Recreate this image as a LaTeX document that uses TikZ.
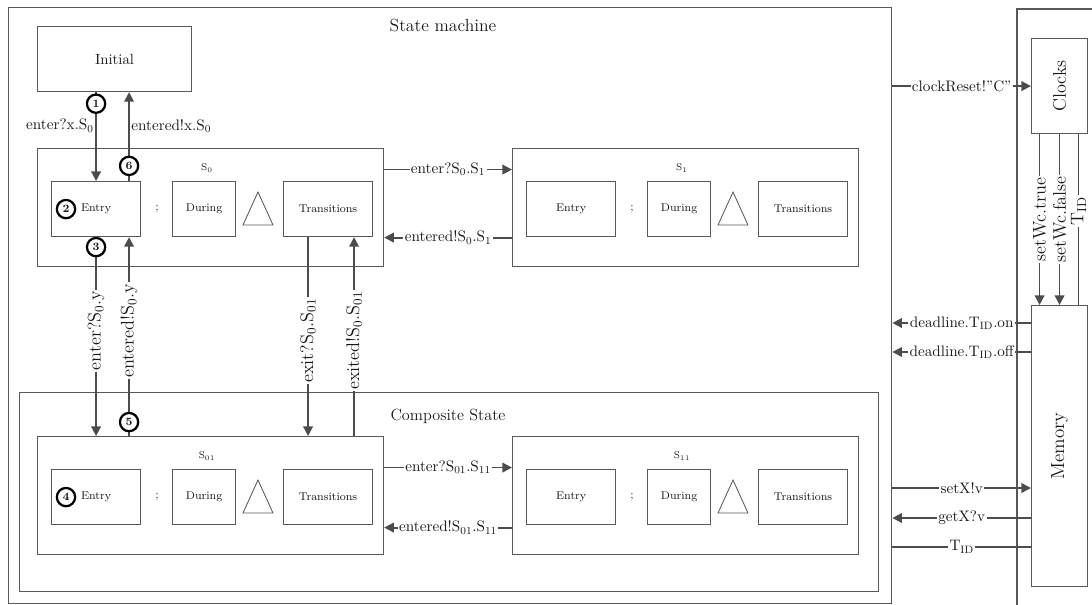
\documentclass[tikz,border=0pt]{standalone}
\usepackage{xcolor}
\usepackage{tikz}
\usetikzlibrary{arrows.meta, positioning, calc}

\definecolor{linegray}{gray}{0.35}
\definecolor{arrgray}{gray}{0.30}
\newcommand{\Ssub}[1]{S\textsubscript{#1}}
\newcommand{\Tid}{T\textsubscript{ID}}

\begin{document}
\begin{tikzpicture}[
    x=0.025cm, y=-0.025cm,
    every node/.style={text=black!90},
    frame/.style={draw=linegray, line width=0.8pt, inner sep=0pt, anchor=north west},
    box/.style={frame, font=\footnotesize},
    arr/.style={-{Triangle[length=2.4mm, width=2.4mm]}, line width=1.3pt, draw=arrgray},
    lnk/.style={line width=1.3pt, draw=arrgray},
    lbl/.style={fill=white, inner sep=1pt, font=\fontsize{10.8}{12}\selectfont},
    vlbl/.style={lbl, rotate=90, font=\fontsize{13}{15}\selectfont},
    num/.style={circle, draw=black, line width=1.6pt, fill=white, inner sep=0pt, minimum size=13pt, font=\bfseries\footnotesize}]
  \useasboundingbox (0,0) rectangle (1092,605);

  \node[frame, minimum width=22.075cm, minimum height=14.9cm] (sm) at (8,7) {};
  \node[font=\fontsize{12.5}{14}\selectfont] (smtitle) at (443,25) {State machine};
  \node[frame, minimum width=21.475cm, minimum height=4.975cm] (comp) at (19,392) {};
  \node[font=\fontsize{11.5}{13}\selectfont] (comptitle) at (448,416) {Composite State};
  \node[frame, minimum width=3.85cm, minimum height=1.625cm, font=\fontsize{10.5}{12}\selectfont] (init) at (37,26) {Initial};

  \foreach \st/\dx/\dy/\nm in {s0/0/0/0, s1/475/0/1, s01/0/288/01, s11/475/288/11}{
    \node[frame, minimum width=8.65cm, minimum height=2.95cm] (\st) at (\dx+37,\dy+148) {};
    \node[box, minimum width=2.225cm, minimum height=1.375cm] (\st-entry) at (\dx+51,\dy+181) {Entry};
    \node[box, minimum width=1.575cm, minimum height=1.375cm] (\st-during) at (\dx+172,\dy+181) {During};
    \node[box, minimum width=2.225cm, minimum height=1.375cm] (\st-trans) at (\dx+283,\dy+181) {Transitions};
    \node[font=\scriptsize] (\st-name) at (\dx+207,\dy+168) {\Ssub{\nm}};
    \node[font=\footnotesize] (\st-semi) at (\dx+157,\dy+209) {;};
    \draw[linegray, line width=0.6pt] (\dx+243,\dy+225) -- (\dx+258,\dy+192) -- (\dx+273,\dy+225) -- cycle;
  }

  \node[frame, minimum width=1.4cm, minimum height=2.375cm, font=\fontsize{13}{15}\selectfont] (clocks) at (1031,38) {\rotatebox{90}{Clocks}};
  \node[frame, minimum width=1.4cm, minimum height=7.025cm, font=\fontsize{13.5}{15}\selectfont] (memory) at (1031,305) {\rotatebox{90}{Memory}};
  \draw[linegray, line width=0.8pt] (1092,9) -- (1017,9) -- (1017,605);

  \node[num] (n2) at ($(s0-entry.west)+(15,0)$) {2};
  \node[num] (n4) at ($(s01-entry.west)+(15,0)$) {4};

  \coordinate (x6) at ($(s0-entry.north)+(33,0)$);
  \coordinate (x5) at ($(s0-entry.south)+(33,0)$);
  \coordinate (xex) at ($(s0-trans.south)+(-20,0)$);
  \coordinate (xed) at ($(s0-trans.south)+(26,0)$);
  \coordinate (c1) at ($(clocks.south)+(-20,0)$);
  \coordinate (c3) at ($(clocks.south)+(19,0)$);
  \coordinate (m1) at ($(memory.north west)+(0,18)$);
  \coordinate (m2) at ($(memory.north west)+(0,47)$);
  \coordinate (m3) at ($(memory.north west)+(0,183)$);
  \coordinate (m4) at ($(memory.north west)+(0,213)$);
  \coordinate (m5) at ($(memory.north west)+(0,242)$);

  \draw[arr] (s0-entry.north |- init.south) -- node[lbl, fill=none, left, pos=0.38] {enter?x.\Ssub{0}} node[num, pos=0.13] {1} (s0-entry.north);
  \draw[arr] (x6) -- node[num, pos=0.17] {6} node[lbl, fill=none, right, pos=0.62] {entered!x.\Ssub{0}} (x6 |- init.south);

  \draw[arr] (s0-entry.south) -- node[vlbl, pos=0.47] {enter?\Ssub{0}.y} node[num, pos=0.05] {3} (s0-entry.south |- s01.north);
  \draw[arr] (x5 |- s01.north) -- node[vlbl, pos=0.53] {entered!\Ssub{0}.y} node[num, pos=0.07] {5} (x5);
  \draw[arr] (xex) -- node[vlbl, pos=0.52] {exit?\Ssub{0}.\Ssub{01}} (xex |- s01.north);
  \draw[arr] (xed |- s01.north) -- node[vlbl, pos=0.48] {exited!\Ssub{0}.\Ssub{01}} (xed);

  \draw[arr] ([yshift=0.95cm]s0.east) -- node[lbl] {enter?\Ssub{0}.\Ssub{1}} ([yshift=0.95cm]s1.west);
  \draw[arr] ([yshift=-0.75cm]s1.west) -- node[lbl] {entered!\Ssub{0}.\Ssub{1}} ([yshift=-0.75cm]s0.east);
  \draw[arr] ([yshift=0.7cm]s01.east) -- node[lbl] {enter?\Ssub{01}.\Ssub{11}} ([yshift=0.7cm]s11.west);
  \draw[arr] ([yshift=-0.8cm]s11.west) -- node[lbl] {entered!\Ssub{01}.\Ssub{11}} ([yshift=-0.8cm]s01.east);

  \draw[arr] (sm.east |- clocks.west) -- node[lbl] {clockReset!''C''} (clocks.west);
  \draw[arr] (c1) -- node[vlbl] {setWc.true} (c1 |- memory.north);
  \draw[arr] (clocks.south) -- node[vlbl] {setWc.false} (memory.north);
  \draw[lnk] (c3 |- memory.north) -- node[vlbl, pos=0.55] {\Tid} (c3);

  \draw[arr] (m1) -- node[lbl] {deadline.\Tid.on} (m1 -| sm.east);
  \draw[arr] (m2) -- node[lbl] {deadline.\Tid.off} (m2 -| sm.east);
  \draw[arr] (m3 -| sm.east) -- node[lbl] {setX!v} (m3);
  \draw[arr] (m4) -- node[lbl] {getX?v} (m4 -| sm.east);
  \draw[lnk] (m5 -| sm.east) -- node[lbl] {\Tid} (m5);
\end{tikzpicture}
\end{document}
